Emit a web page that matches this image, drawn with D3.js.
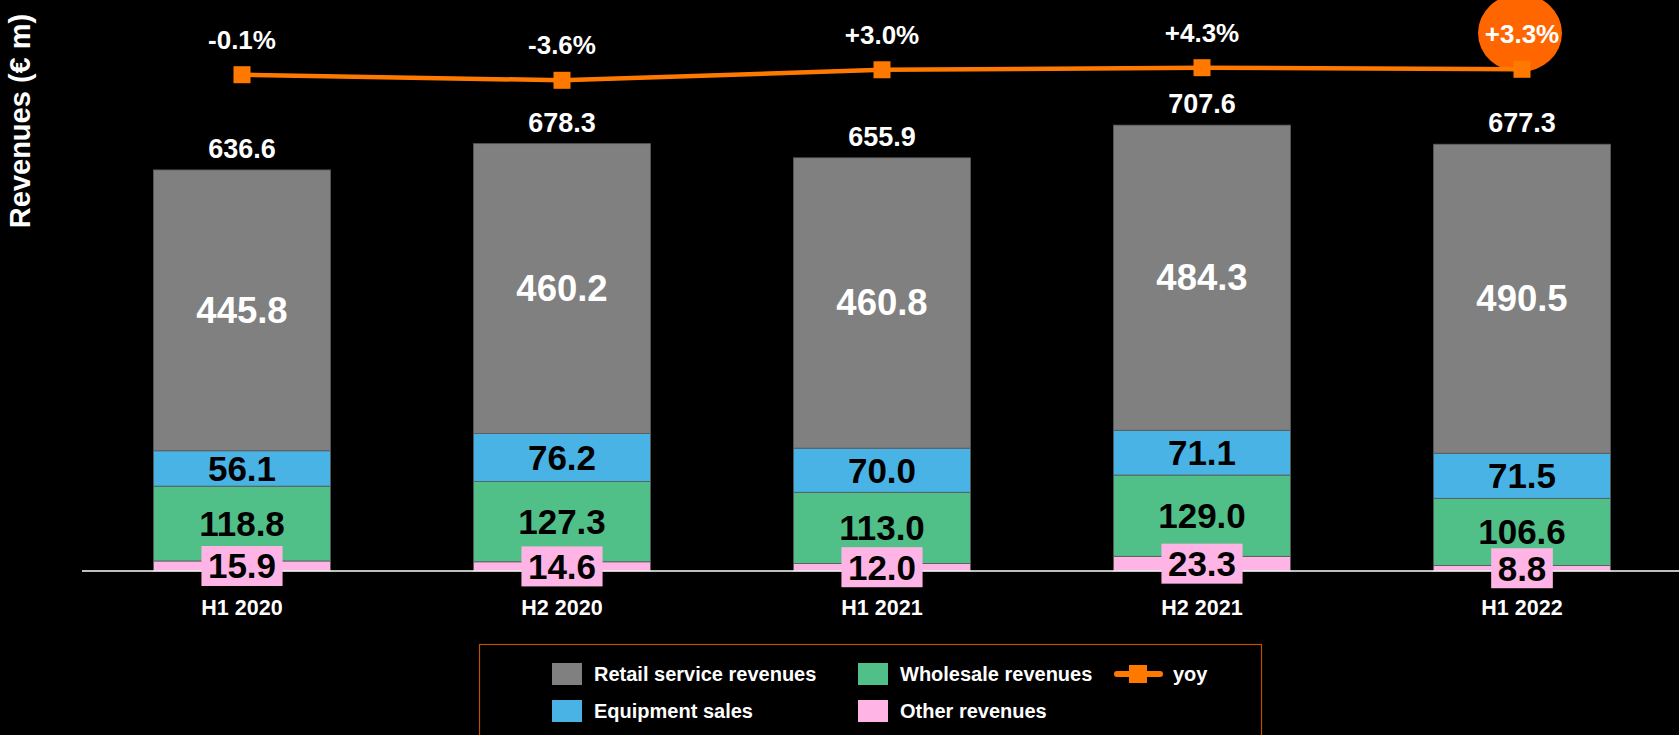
<!DOCTYPE html>
<html>
<head>
<meta charset="utf-8">
<script src="https://cdn.jsdelivr.net/npm/d3@7/dist/d3.min.js"></script>
<style>
  html, body { margin: 0; padding: 0; background: #000; }
  svg { display: block; }
  text { font-family: "Liberation Sans", Arial, Helvetica, sans-serif; font-weight: bold; }
</style>
</head>
<body>
<svg id="chart" width="1679" height="735"></svg>
<script>
const categories = ["H1 2020", "H2 2020", "H1 2021", "H2 2021", "H1 2022"];
const other = [15.9, 14.6, 12.0, 23.3, 8.8];
const wholesale = [118.8, 127.3, 113.0, 129.0, 106.6];
const equipment = [56.1, 76.2, 70.0, 71.1, 71.5];
const retail = [445.8, 460.2, 460.8, 484.3, 490.5];
const totals = [636.6, 678.3, 655.9, 707.6, 677.3];
const yoy = [-0.1, -3.6, 3.0, 4.3, 3.3];
const yoyLabels = ["-0.1%", "-3.6%", "+3.0%", "+4.3%", "+3.3%"];
const seriesNames = ["Other revenues", "Wholesale revenues", "Equipment sales", "Retail service revenues"];
const seriesColors = ["#FFB4E6", "#50BF88", "#4AB3E6", "#808080"];
const labelColors = ["#000", "#000", "#000", "#fff"];
const labelSizes = [35, 35, 35, 36.5];

const svg = d3.select("#chart");
const W = 1679, H = 735;
svg.append("rect").attr("width", W).attr("height", H).attr("fill", "#000");

const x = d3.scaleBand().domain(categories).range([82, 1682]).paddingInner(0.447).paddingOuter(0.2235);
const y = d3.scaleLinear().domain([0, 906.3]).range([571, 0]);
const y2 = d3.scaleLinear().domain([-3.6, 4.3]).range([80.3, 67.7]);

const table = categories.map((c, i) => ({cat: c, other: other[i], wholesale: wholesale[i], equipment: equipment[i], retail: retail[i]}));
const keys = ["other", "wholesale", "equipment", "retail"];
const stacked = d3.stack().keys(keys)(table);

// bars
const layers = svg.append("g").selectAll("g").data(stacked).join("g")
  .attr("fill", (d, i) => seriesColors[i]);
layers.selectAll("rect").data(d => d).join("rect")
  .attr("x", d => x(d.data.cat))
  .attr("width", x.bandwidth())
  .attr("y", d => y(d[1]))
  .attr("height", d => y(d[0]) - y(d[1]))
  .attr("stroke", "#5a5a5a")
  .attr("stroke-width", 0.8);

// baseline
svg.append("line").attr("x1", 82).attr("x2", W).attr("y1", y(0)).attr("y2", y(0))
  .attr("stroke", "#fff").attr("stroke-width", 1.5);

// segment labels
stacked.forEach((layer, li) => {
  const g = svg.append("g");
  layer.forEach((d, i) => {
    const cx = x(d.data.cat) + x.bandwidth() / 2;
    const cy = (y(d[0]) + y(d[1])) / 2;
    const t = g.append("text")
      .attr("x", cx).attr("y", cy)
      .attr("text-anchor", "middle")
      .attr("dominant-baseline", "central")
      .attr("font-size", labelSizes[li])
      .attr("fill", labelColors[li])
      .text([other, wholesale, equipment, retail][li][i].toFixed(1));
    if (li === 0) {
      const bb = t.node().getBBox();
      g.insert("rect", () => t.node())
        .attr("x", bb.x - 6.5).attr("y", cy - 20)
        .attr("width", bb.width + 13).attr("height", 40)
        .attr("fill", seriesColors[0]);
    }
  });
});

// totals
svg.append("g").selectAll("text").data(totals).join("text")
  .attr("x", (d, i) => x(categories[i]) + x.bandwidth() / 2)
  .attr("y", d => y(d) - 12)
  .attr("text-anchor", "middle")
  .attr("font-size", 27)
  .attr("fill", "#fff")
  .text(d => d.toFixed(1));

// category axis labels
svg.append("g").selectAll("text").data(categories).join("text")
  .attr("x", d => x(d) + x.bandwidth() / 2)
  .attr("y", 615)
  .attr("text-anchor", "middle")
  .attr("font-size", 21.5)
  .attr("fill", "#fff")
  .text(d => d);

// highlight ellipse for last yoy
const lastX = x(categories[4]) + x.bandwidth() / 2;
svg.append("ellipse").attr("cx", lastX - 2).attr("cy", 33).attr("rx", 42).attr("ry", 39).attr("fill", "#FF6600");

// yoy line
const line = d3.line().x((d, i) => x(categories[i]) + x.bandwidth() / 2).y(d => y2(d));
svg.append("path").datum(yoy).attr("d", line).attr("fill", "none")
  .attr("stroke", "#FF7900").attr("stroke-width", 4.5);
svg.append("g").selectAll("rect").data(yoy).join("rect")
  .attr("x", (d, i) => x(categories[i]) + x.bandwidth() / 2 - 8.5)
  .attr("y", d => y2(d) - 8.5)
  .attr("width", 17).attr("height", 17)
  .attr("fill", "#FF7900");
svg.append("g").selectAll("text").data(yoy).join("text")
  .attr("x", (d, i) => x(categories[i]) + x.bandwidth() / 2)
  .attr("y", d => y2(d) - 26)
  .attr("text-anchor", "middle")
  .attr("font-size", 26)
  .attr("fill", "#fff")
  .text((d, i) => yoyLabels[i]);

// y-axis title
svg.append("text")
  .attr("transform", "translate(30,121) rotate(-90)")
  .attr("text-anchor", "middle")
  .attr("font-size", 29)
  .attr("fill", "#fff")
  .text("Revenues (€ m)");

// legend
const lg = svg.append("g");
lg.append("rect").attr("x", 479.5).attr("y", 644.5).attr("width", 782).attr("height", 95)
  .attr("fill", "none").attr("stroke", "#B85400").attr("stroke-width", 1.2);
const legendItems = [
  {name: "Retail service revenues", color: seriesColors[3], x: 552, y: 674},
  {name: "Wholesale revenues", color: seriesColors[1], x: 858, y: 674},
  {name: "Equipment sales", color: seriesColors[2], x: 552, y: 711},
  {name: "Other revenues", color: seriesColors[0], x: 858, y: 711}
];
legendItems.forEach(it => {
  lg.append("rect").attr("x", it.x).attr("y", it.y - 11).attr("width", 30).attr("height", 22).attr("fill", it.color);
  lg.append("text").attr("x", it.x + 42).attr("y", it.y).attr("dominant-baseline", "central")
    .attr("font-size", 20).attr("fill", "#fff").text(it.name);
});
lg.append("line").attr("x1", 1117).attr("x2", 1160).attr("y1", 674).attr("y2", 674)
  .attr("stroke", "#FF7900").attr("stroke-width", 6).attr("stroke-linecap", "round");
lg.append("rect").attr("x", 1129).attr("y", 665).attr("width", 18).attr("height", 18).attr("fill", "#FF7900");
lg.append("text").attr("x", 1173).attr("y", 674).attr("dominant-baseline", "central")
  .attr("font-size", 20).attr("fill", "#fff").text("yoy");
</script>
</body>
</html>
